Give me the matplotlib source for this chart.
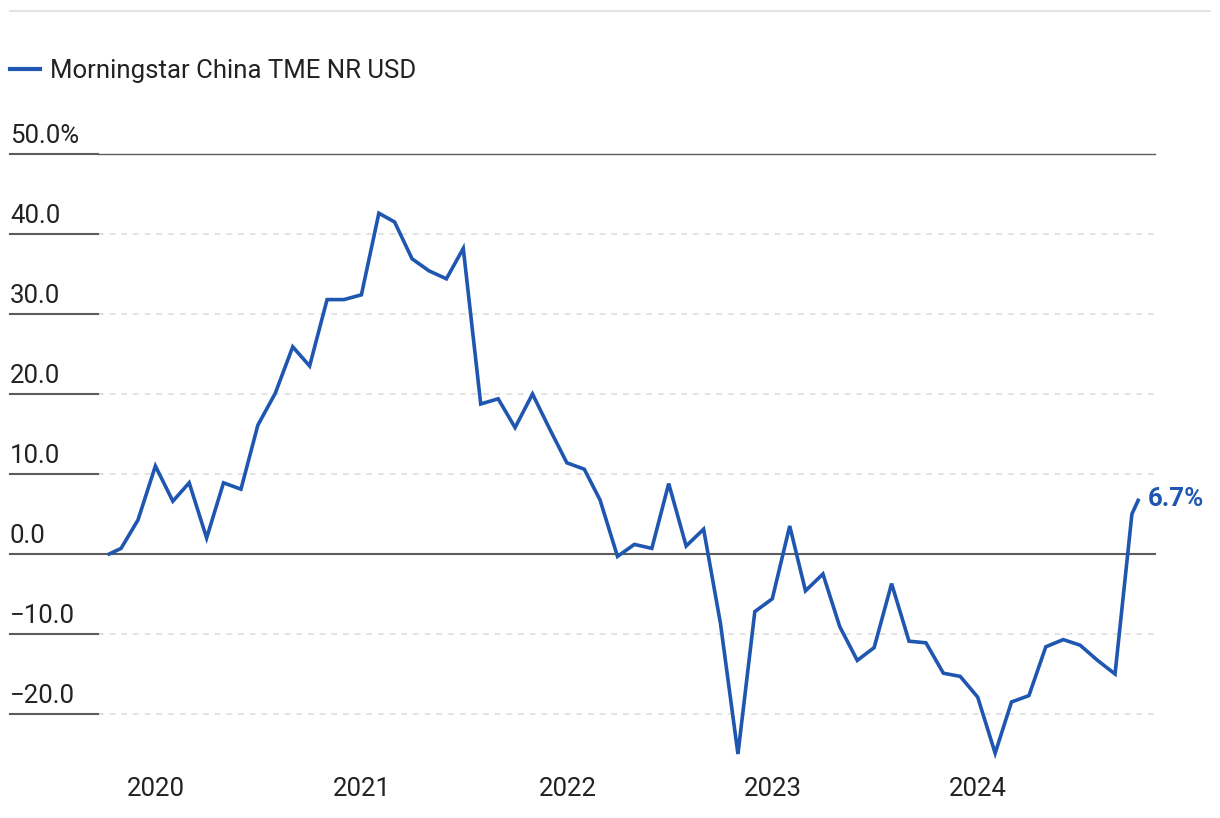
import matplotlib
matplotlib.use("Agg")
import matplotlib.pyplot as plt
import matplotlib.dates as mdates
from matplotlib.lines import Line2D
import pandas as pd

plt.rcParams['font.family'] = ['Roboto', 'DejaVu Sans']

# data
series_name = "Morningstar China TME NR USD"
dates = ([pd.Timestamp("2019-10-10")]
         + list(pd.date_range("2019-10-31", "2024-09-30", freq="ME"))
         + [pd.Timestamp("2024-10-11")])
values = [0.0, 0.7, 4.25, 11.0, 6.6, 8.9, 2.0, 8.9, 8.1, 16.1, 20.1, 25.9,
          23.5, 31.8, 31.8, 32.4, 42.6, 41.5, 36.9, 35.4, 34.4, 38.2, 18.75, 19.4,
          15.8, 20.0, 15.7, 11.4, 10.6, 6.75, -0.3, 1.2, 0.7, 8.8, 1.0, 3.1,
          -8.7, -25.0, -7.2, -5.6, 3.5, -4.6, -2.5, -9.1, -13.3, -11.7, -3.7, -10.9,
          -11.1, -14.9, -15.3, -17.9, -24.9, -18.5, -17.7, -11.6, -10.7, -11.4, -13.3, -15.0,
          5.0, 6.7]
yticks = [-20, -10, 0, 10, 20, 30, 40, 50]
ytick_labels = ["\u221220.0", "\u221210.0", "0.0", "10.0", "20.0", "30.0", "40.0", "50.0%"]
years = [2020, 2021, 2022, 2023, 2024]
end_label = "6.7%"

blue = '#1f56b0'
dark = '#5c5c5c'
W, H = 1220, 818
fs = 18.5

fig = plt.figure(figsize=(W / 100, H / 100), dpi=100)
ax = fig.add_axes([98 / W, 48 / H, (1155 - 98) / W, (770 - 154) / H])

ax.plot(dates, values, color=blue, lw=2.6, solid_joinstyle='miter', zorder=3,
        label=series_name)

ax.set_ylim(-27, 50)
ax.set_xlim(pd.Timestamp("2019-09-20"), pd.Timestamp("2024-11-10"))

for s in ax.spines.values():
    s.set_visible(False)

ax.set_yticks([])
ax.set_xticks([pd.Timestamp(f"{y}-01-01") for y in years])
ax.xaxis.set_major_formatter(mdates.DateFormatter("%Y"))
ax.tick_params(axis='x', length=0, pad=5, labelsize=fs, labelcolor='#222222')

# gridlines, tick segments and labels on the left
tick_x0 = (10 - 98) / (1155 - 98)
ytr = ax.get_yaxis_transform()
for v, lab in zip(yticks, ytick_labels):
    if v == 0:
        ax.plot([tick_x0, 1], [v, v], transform=ytr, color=dark, lw=1.5,
                clip_on=False, zorder=2)
    elif v == 50:
        ax.plot([0, 1], [v, v], transform=ytr, color=dark, lw=1.0,
                clip_on=False, zorder=2)
        ax.plot([tick_x0, 0], [v, v], transform=ytr, color=dark, lw=1.5,
                clip_on=False, zorder=2)
    else:
        ax.plot([0, 1], [v, v], transform=ytr, color='#dedede', lw=1.2,
                ls=(0, (3.5, 3.5)), clip_on=False, zorder=1)
        ax.plot([tick_x0, 0], [v, v], transform=ytr, color=dark, lw=1.5,
                clip_on=False, zorder=2)
    ax.annotate(lab, xy=(tick_x0, v), xycoords=ytr, xytext=(0, 4),
                textcoords='offset points', ha='left', va='bottom',
                fontsize=fs, color='#222222', annotation_clip=False)

# end value label
ax.annotate(end_label, xy=(dates[-1], values[-1]), xytext=(7, 1),
            textcoords='offset points', ha='left', va='center',
            fontsize=fs, fontweight='bold', color=blue, annotation_clip=False)

# legend
ax.legend(loc='center left', bbox_to_anchor=(10 / W, 1 - 71 / H),
          bbox_transform=fig.transFigure, frameon=False, fontsize=fs,
          handlelength=1.15, handletextpad=0.4, borderpad=0, borderaxespad=0,
          labelcolor='#222222')
for lh in ax.get_legend().get_lines():
    lh.set_linewidth(3)

# top rule
fig.add_artist(Line2D([10 / W, 1210 / W], [1 - 11 / H, 1 - 11 / H],
                      color='#e3e3e3', lw=1.5))

fig.savefig("out.png", dpi=100, facecolor='white')
